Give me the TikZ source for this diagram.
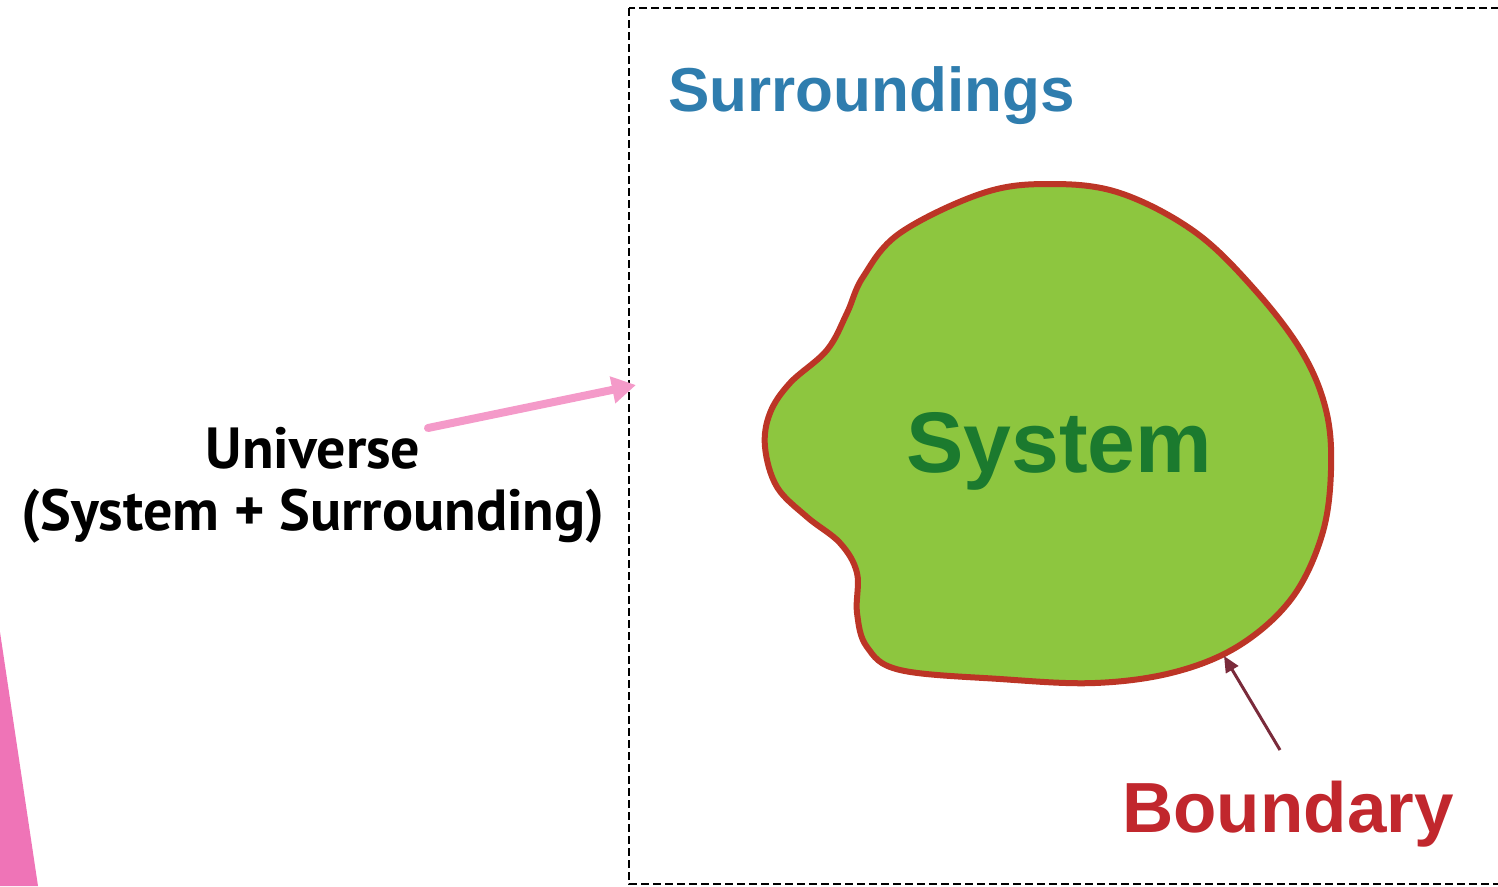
\documentclass[tikz,border=0pt]{standalone}
\usepackage{fontspec}
\setmainfont{Liberation Sans}
\newfontfamily\ptsans{PT Sans}
\usetikzlibrary{arrows.meta}
\definecolor{pinkarrow}{HTML}{F49AC9}
\definecolor{pinkshape}{HTML}{EF74B7}
\definecolor{sysfill}{HTML}{8DC63F}
\definecolor{sysline}{HTML}{BC3526}
\definecolor{systext}{HTML}{1B7A2E}
\definecolor{surrtext}{HTML}{2F7DAE}
\definecolor{boundtext}{HTML}{C1272D}
\definecolor{boundarrow}{HTML}{7A2B3B}
\tikzset{
  univlabel/.style={font=\ptsans\bfseries\fontsize{58}{64}\selectfont, inner sep=0pt, anchor=base},
  boxline/.style={draw=black, line width=1.5pt, dash pattern=on 8pt off 4pt},
  pinkconn/.style={draw=pinkarrow, line width=8pt, line cap=round, -{Triangle[length=24pt,width=26pt]}},
  bndconn/.style={draw=boundarrow, line width=3pt, -{Triangle[length=16pt,width=14pt]}},
}
\begin{document}
\begin{tikzpicture}[x=1pt,y=-1pt]
\useasboundingbox (0,0) rectangle (1498,886);
\clip (0,0) rectangle (1498,886);
% pink wedge
\fill[pinkshape] (0,632) -- (38,886) -- (0,886) -- cycle;
% dashed box
\draw[boxline] (629,8) rectangle (1520,884);
% system blob
\draw[sysline, line width=6pt, fill=sysfill] plot[smooth cycle, tension=0.6] coordinates {
 (1050,184) (1120,193) (1195,232) (1255,290) (1302,352) (1326,410) (1331,470)
 (1322,535) (1292,598) (1240,645) (1175,672) (1095,683) (1000,679) (900,670)
 (867,647) (857,613) (857,573) (840,543) (807,517) (777,487) (765,447)
 (770,413) (790,383) (827,350) (847,313) (863,277) (900,233) (983,193)};
% texts
\node[font=\bfseries\fontsize{62}{70}\selectfont, text=surrtext, inner sep=0pt, anchor=base west] (surr) at (668,111) {Surroundings};
\node[font=\bfseries\fontsize{86}{96}\selectfont, text=systext, inner sep=0pt, anchor=base] (sys) at (1059,472) {System};
\node[font=\bfseries\fontsize{71}{80}\selectfont, text=boundtext, inner sep=0pt, anchor=base west] (bnd) at (1122,832) {Boundary};
\node[univlabel] (univ) at (313,468) {Universe};
\node[univlabel] (univ2) at (313,530) {(System + Surrounding)};
% connectors
\coordinate (ua) at (428,428);
\coordinate (ub) at (636,385);
\draw[pinkconn] (ua) -- (ub);
\coordinate (ba) at (1280,750);
\coordinate (bb) at (1224,656);
\draw[bndconn] (ba) -- (bb);
\end{tikzpicture}
\end{document}
